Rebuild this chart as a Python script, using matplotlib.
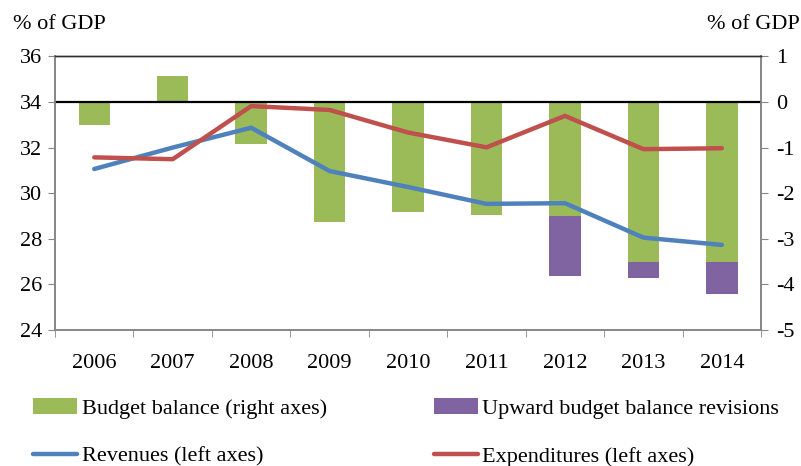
import numpy as np
import matplotlib
matplotlib.use("Agg")
from matplotlib import pyplot as plt

plt.rcParams['font.family'] = ['Liberation Serif', 'DejaVu Serif']
plt.rcParams['font.size'] = 16
plt.rcParams['axes.unicode_minus'] = False

# data
years = ['2006', '2007', '2008', '2009', '2010', '2011', '2012', '2013', '2014']
balance = [-0.50, 0.57, -0.92, -2.64, -2.42, -2.48, -2.51, -3.52, -3.52]
revisions = [0, 0, 0, 0, 0, 0, -1.31, -0.35, -0.70]
revenues = [31.06, 32.0, 32.87, 30.97, 30.27, 29.53, 29.56, 28.05, 27.73]
expenditures = [31.57, 31.49, 33.82, 33.65, 32.66, 32.01, 33.39, 31.93, 31.97]

green = '#9BBB59'
purple = '#8064A2'
blue = '#4F81BD'
red = '#C0504D'
grey = '#868686'

fig = plt.figure(figsize=(8.01, 4.66), dpi=100)
ax = fig.add_axes([0.0687, 0.292, 0.8815, 0.587])
ax2 = ax.twinx()

x = np.arange(len(years))

# bars on right axis
b1 = ax2.bar(x, balance, width=0.4, color=green, label='Budget balance (right axes)', zorder=2)
b2 = ax2.bar(x, revisions, width=0.4, bottom=balance, color=purple,
             label='Upward budget balance revisions', zorder=2)
ax2.axhline(0, color='black', lw=1.6, zorder=3)
ax2.set_ylim(-5, 1)
ax2.set_yticks(range(-5, 2))

# lines on left axis, drawn above bars
ax.set_zorder(ax2.get_zorder() + 1)
ax.patch.set_visible(False)
l1, = ax.plot(x, revenues, color=blue, lw=3.2, label='Revenues (left axes)', solid_capstyle='round')
l2, = ax.plot(x, expenditures, color=red, lw=3.2, label='Expenditures (left axes)', solid_capstyle='round')
ax.set_ylim(24, 36)
ax.set_yticks(range(24, 37, 2))

ax.set_xlim(-0.5, len(years) - 0.5)
ax.set_xticks(x)
ax.set_xticklabels(years)
ax.set_xticks(np.arange(-0.5, len(years), 1), minor=True)
ax.tick_params(axis='x', which='major', length=0, pad=17)
ax.tick_params(axis='x', which='minor', length=5, color=grey, direction='out')
ax.tick_params(axis='y', length=5, color=grey, direction='out', pad=4)
ax2.tick_params(axis='y', length=5, color=grey, direction='out', pad=6)

for a in (ax, ax2):
    for s in a.spines.values():
        s.set_color(grey)
        s.set_linewidth(1.2)
    a.spines['top'].set_color('#303030')
    a.spines['top'].set_linewidth(1.0)

fig.text(0.016, 0.948, '% of GDP', ha='left', va='center')
fig.text(0.998, 0.948, '% of GDP', ha='right', va='center')

# legend filled row by row like the original
fig.legend([b1, l1, b2, l2],
           ['Budget balance (right axes)', 'Revenues (left axes)',
            'Upward budget balance revisions', 'Expenditures (left axes)'],
           ncol=2, loc='upper left', bbox_to_anchor=(0.041, 0.146),
           frameon=False, handlelength=2.0, handletextpad=0.2, columnspacing=4.8,
           labelspacing=1.25, borderaxespad=0, borderpad=0)

fig.savefig('out.png', dpi=100)
